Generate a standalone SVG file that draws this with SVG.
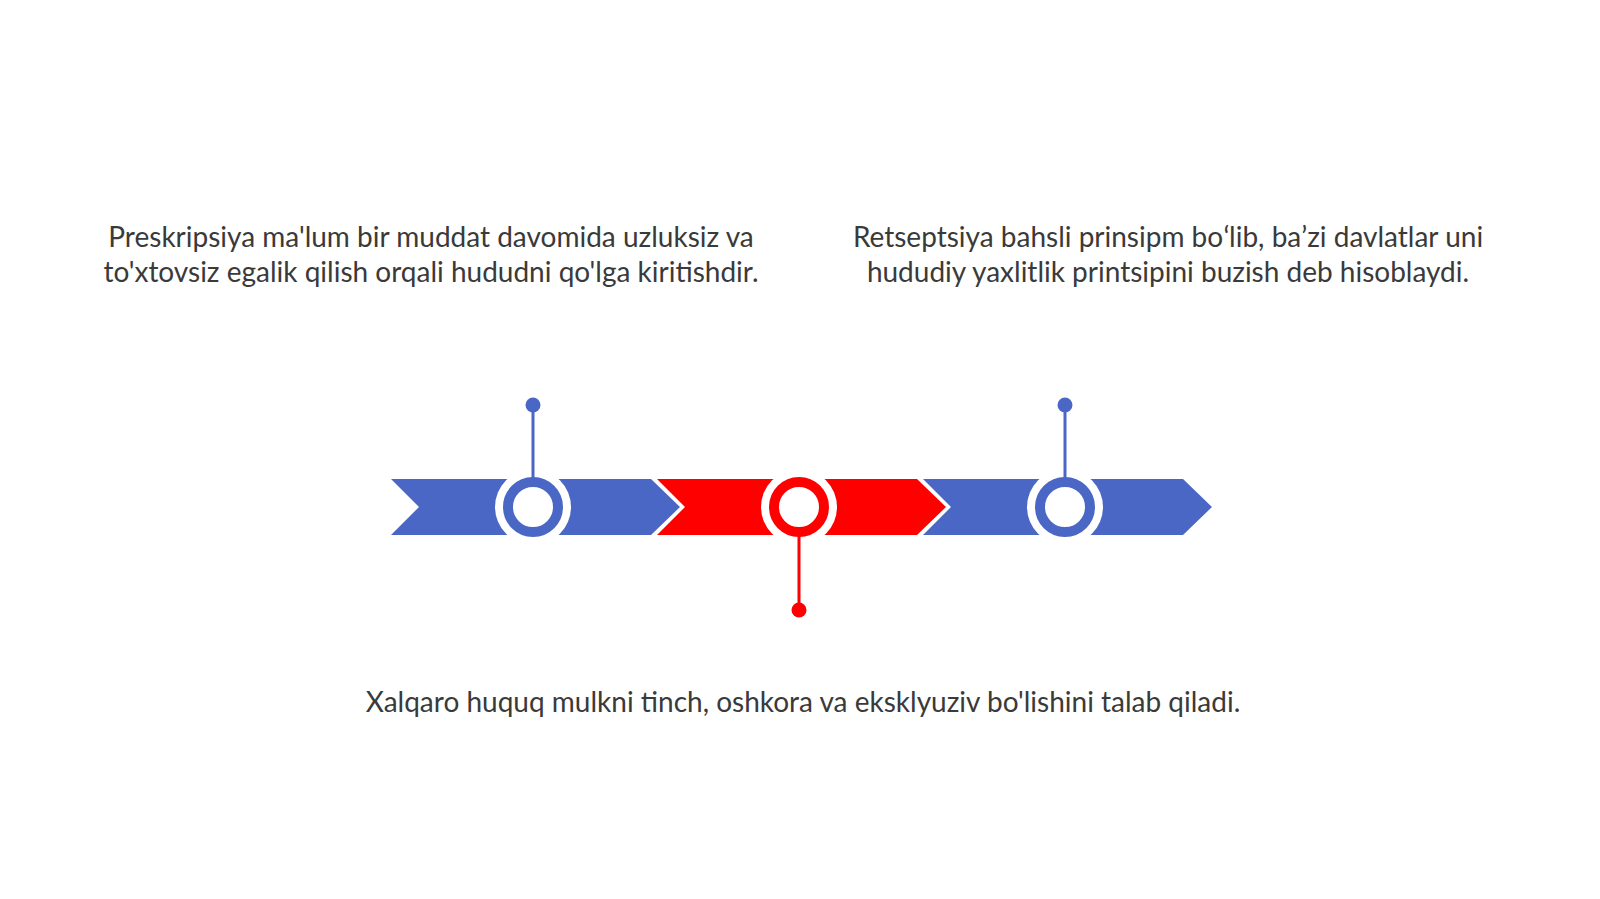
<svg xmlns="http://www.w3.org/2000/svg" width="1600" height="899" viewBox="0 0 1600 899">
<style>
.txt{font-family:Lato,"Open Sans","Liberation Sans",sans-serif;font-size:28px;fill:#3a3a3a;text-anchor:middle}
.blue{fill:#4a67c6}
.red{fill:#ff0000}
.halo{fill:#ffffff}
.ringb{fill:#ffffff;stroke:#4a67c6;stroke-width:10}
.ringr{fill:#ffffff;stroke:#ff0000;stroke-width:10}
.lb{stroke:#4a67c6;stroke-width:3}
.lr{stroke:#ff0000;stroke-width:3}
</style>
<rect width="1600" height="899" fill="#ffffff"/>
<g id="chevrons">
<polygon class="blue" points="391,479 651,479 680,507 651,535 391,535 419,507"/>
<polygon class="red" points="657,479 917,479 946,507 917,535 657,535 685,507"/>
<polygon class="blue" points="923,479 1183,479 1212,507 1183,535 923,535 951,507"/>
</g>
<g id="node1">
<circle class="halo" cx="533" cy="507" r="38"/>
<circle class="ringb" cx="533" cy="507" r="25"/>
<text class="txt" x="431" y="247">Preskripsiya ma'lum bir muddat davomida uzluksiz va</text>
<text class="txt" x="431" y="282">to'xtovsiz egalik qilish orqali hududni qo'lga kiritishdir.</text>
</g>
<g id="node2">
<circle class="halo" cx="799" cy="507" r="38"/>
<circle class="ringr" cx="799" cy="507" r="25"/>
<text class="txt" x="803" y="712">Xalqaro huquq mulkni tinch, oshkora va eksklyuziv bo'lishini talab qiladi.</text>
</g>
<g id="node3">
<circle class="halo" cx="1065" cy="507" r="38"/>
<circle class="ringb" cx="1065" cy="507" r="25"/>
<text class="txt" x="1168" y="247">Retseptsiya bahsli prinsipm boʻlib, baʼzi davlatlar uni</text>
<text class="txt" x="1168" y="282">hududiy yaxlitlik printsipini buzish deb hisoblaydi.</text>
</g>
<g id="connectors">
<line class="lb" x1="533" y1="405" x2="533" y2="478"/>
<line class="lr" x1="799" y1="536" x2="799" y2="610"/>
<line class="lb" x1="1065" y1="405" x2="1065" y2="478"/>
<circle class="blue" cx="533" cy="405" r="7.5"/>
<circle class="red" cx="799" cy="610" r="7.5"/>
<circle class="blue" cx="1065" cy="405" r="7.5"/>
</g>
</svg>
